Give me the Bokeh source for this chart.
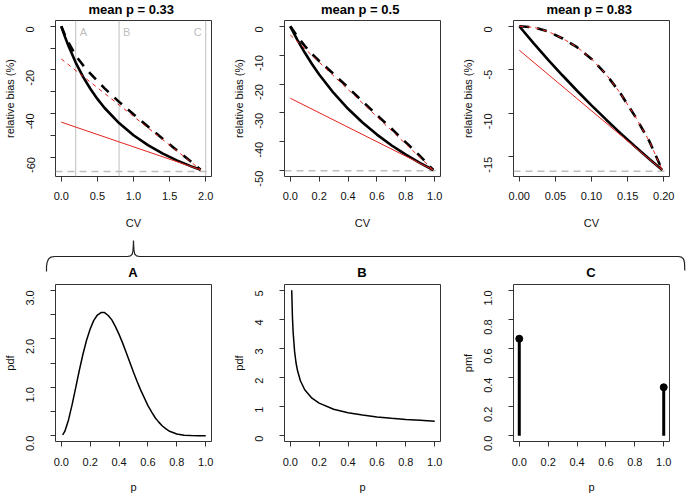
import math
from bokeh.plotting import figure
from bokeh.layouts import column, row
from bokeh.models import Range1d, FixedTicker, Span
from bokeh.embed import file_html
from bokeh.resources import INLINE
from bokeh.core.properties import value

FONT = "Liberation Sans"
RED = "#E3231E"
GREY = "#BEBEBE"
INK = "#111111"

# ---------------- data ----------------
TOP_TITLES = ["mean p =  0.33", "mean p =  0.5", "mean p =  0.83"]
LIMITS = [-66.67, -50.0, -16.67]          # grey dashed horizontal line per panel
MARK_CV = [0.2, 0.8, 2.0]                 # grey vertical lines in first panel
MARK_LABELS = ["A", "B", "C"]

P1_CV = [0, 0.05, 0.1, 0.2, 0.3, 0.4, 0.5, 0.6, 0.8, 1.0, 1.2, 1.4, 1.6, 1.8, 1.93]
P1_SOLID = [0, -4.76, -9.09, -16.67, -23.08, -28.57, -33.33, -37.5, -44.44, -50.0,
            -54.55, -58.33, -61.54, -64.29, -65.87]
P1_DASHED = [0, -4.0, -7.5, -13.5, -17.8, -21.6, -25.1, -28.5, -34.7, -40.4,
             -46.0, -51.5, -56.9, -62.2, -65.87]
P1_RED_CV = [0, 1.93]
P1_RED_SOLID = [-44.0, -65.87]
P1_RED_DASHED = [-15.0, -65.87]

P2_CV = [0, 0.05, 0.1, 0.15, 0.2, 0.3, 0.4, 0.5, 0.6, 0.7, 0.8, 0.9, 0.99]
P2_SOLID = [0, -4.76, -9.09, -13.04, -16.67, -23.08, -28.57, -33.33, -37.5, -41.18,
            -44.44, -47.37, -49.75]
P2_DASHED = [0, -3.6, -6.8, -9.6, -12.0, -16.5, -21.2, -26.0, -30.7, -35.4,
             -40.2, -45.0, -49.75]
P2_RED_CV = [0, 0.99]
P2_RED_SOLID = [-24.9, -49.75]
P2_RED_DASHED = [-3.0, -49.75]

P3_CV = [0, 0.02, 0.04, 0.06, 0.08, 0.1, 0.12, 0.14, 0.16, 0.18, 0.198]
P3_SOLID = [0, -1.96, -3.85, -5.66, -7.41, -9.09, -10.71, -12.28, -13.79, -15.25, -16.53]
P3_DASHED = [0, -0.12, -0.6, -1.4, -2.4, -3.75, -5.5, -7.7, -10.3, -13.2, -16.53]
P3_RED_CV = [0, 0.198]
P3_RED_SOLID = [-2.75, -16.53]
P3_RED_DASHED = [0, -0.12, -0.6, -1.4, -2.4, -3.75, -5.5, -7.7, -10.3, -13.2, -16.53]

A_P = [0.01, 0.025, 0.05, 0.075, 0.1, 0.125, 0.15, 0.175, 0.2, 0.225, 0.25, 0.275,
       0.3, 0.325, 0.35, 0.375, 0.4, 0.425, 0.45, 0.475, 0.5, 0.525, 0.55, 0.575,
       0.6, 0.625, 0.65, 0.675, 0.7, 0.725, 0.75, 0.8, 0.85, 0.9, 0.95, 1.0]
A_PDF = [0.016, 0.093, 0.325, 0.64, 0.99, 1.35, 1.68, 1.97, 2.20, 2.38, 2.49, 2.54,
         2.54, 2.48, 2.39, 2.25, 2.09, 1.91, 1.71, 1.51, 1.31, 1.12, 0.94, 0.78,
         0.62, 0.49, 0.37, 0.28, 0.20, 0.14, 0.09, 0.034, 0.009, 0.0014, 0.0001, 0.0]
B_P = [0.01, 0.015, 0.02, 0.03, 0.04, 0.05, 0.07, 0.1, 0.15, 0.2, 0.3, 0.4, 0.5,
       0.6, 0.7, 0.8, 0.9, 1.0]
B_PDF = [5.0, 4.08, 3.54, 2.89, 2.5, 2.24, 1.89, 1.58, 1.29, 1.12, 0.91, 0.79, 0.71,
         0.645, 0.60, 0.56, 0.53, 0.5]
C_P = [0, 1]
C_PMF = [0.667, 0.333]
BOTTOM_TITLES = ["A", "B", "C"]

# ticks
P1_XT = [0, 0.5, 1.0, 1.5, 2.0]; P1_XL = ["0.0", "0.5", "1.0", "1.5", "2.0"]
P1_YT = [0, -10, -20, -30, -40, -50, -60]; P1_YL = ["0", "", "-20", "", "-40", "", "-60"]
P2_XT = [0, 0.2, 0.4, 0.6, 0.8, 1.0]; P2_XL = ["0.0", "0.2", "0.4", "0.6", "0.8", "1.0"]
P2_YT = [0, -10, -20, -30, -40, -50]; P2_YL = ["0", "-10", "-20", "-30", "-40", "-50"]
P3_XT = [0, 0.05, 0.1, 0.15, 0.2]; P3_XL = ["0.00", "0.05", "0.10", "0.15", "0.20"]
P3_YT = [0, -5, -10, -15]; P3_YL = ["0", "-5", "-10", "-15"]
BX_T = [0, 0.2, 0.4, 0.6, 0.8, 1.0]; BX_L = ["0.0", "0.2", "0.4", "0.6", "0.8", "1.0"]
A_YT = [0, 0.5, 1.0, 1.5, 2.0, 2.5, 3.0]; A_YL = ["0.0", "", "1.0", "", "2.0", "", "3.0"]
B_YT = [0, 1, 2, 3, 4, 5]; B_YL = ["0", "1", "2", "3", "4", "5"]
C_YT = [0, 0.2, 0.4, 0.6, 0.8, 1.0]; C_YL = ["0.0", "0.2", "0.4", "0.6", "0.8", "1.0"]

# curly brace (strip coordinates, px from the strip's top-left)
BRACE_X = [46, 46, 46.6, 48, 50.5, 54, 127, 130, 131.8, 132.5, 132.8, 133,
           133.2, 133.5, 134.2, 136, 139, 678, 681, 683, 684, 684.3]
BRACE_Y = [35, 30, 26, 22.5, 20.6, 20, 20, 19.4, 17.5, 14, 9, 4,
           9, 14, 17.5, 19.4, 20, 20, 20.6, 22.5, 26, 34]

# ---------------- layout constants ----------------
COL_W = [229, 229, 230]
FRAME_W = 157
LEFT_B = 54
TITLE_H, TOP_H, STRIP_H, BOT_H = 18, 218, 44, 216
TOTAL_W = sum(COL_W)
FRAME_CENTERS = [sum(COL_W[:k]) + LEFT_B + FRAME_W / 2 for k in range(3)]


def make_fig(w, h, xr, yr, bt, bb):
    p = figure(width=w, height=h, x_range=Range1d(*xr), y_range=Range1d(*yr),
               output_backend="svg", toolbar_location=None,
               min_border_left=LEFT_B, min_border_right=w - LEFT_B - FRAME_W,
               min_border_top=bt, min_border_bottom=bb)
    p.xgrid.visible = False
    p.ygrid.visible = False
    p.outline_line_color = "#333333"
    p.outline_line_width = 1
    p.outline_line_alpha = 1
    p.background_fill_color = "white"
    p.border_fill_color = "white"
    return p


def strip_fig(h):
    s = figure(width=TOTAL_W, height=h, x_range=Range1d(0, TOTAL_W),
               y_range=Range1d(h, 0), output_backend="svg", toolbar_location=None,
               x_axis_location=None, y_axis_location=None,
               min_border_left=0, min_border_right=0, min_border_top=0, min_border_bottom=0)
    s.xgrid.visible = False
    s.ygrid.visible = False
    s.outline_line_color = None
    return s


def style_axes(p, xt, xl, yt, yl, xlab, ylab, x_ts, x_ls):
    p.xaxis.ticker = FixedTicker(ticks=xt)
    p.xaxis.major_label_overrides = {float(t): s for t, s in zip(xt, xl)}
    p.yaxis.ticker = FixedTicker(ticks=yt)
    p.yaxis.major_label_overrides = {float(t): s for t, s in zip(yt, yl)}
    p.xaxis.axis_label = xlab
    p.yaxis.axis_label = ylab
    for ax in (p.xaxis[0], p.yaxis[0]):
        ax.axis_line_color = None
        ax.major_tick_line_color = "#333333"
        ax.major_tick_out = 5
        ax.major_tick_in = 0
        ax.minor_tick_line_color = None
        ax.major_label_text_font = FONT
        ax.major_label_text_font_size = "11px"
        ax.major_label_text_color = INK
        ax.axis_label_text_font = FONT
        ax.axis_label_text_font_size = "11px"
        ax.axis_label_text_font_style = "normal"
        ax.axis_label_text_color = INK
    p.xaxis.major_label_standoff = x_ts
    p.xaxis.axis_label_standoff = x_ls
    p.yaxis.major_label_standoff = 20
    p.yaxis.axis_label_standoff = 4
    p.yaxis.major_label_orientation = math.pi / 2


def top_panel(i, xr, yr, cv, solid, dashed, red_cv, red_solid, red_dashed_x, red_dashed,
              xt, xl, yt, yl, marks=False):
    p = make_fig(COL_W[i], TOP_H, xr, yr, 2, 60)
    style_axes(p, xt, xl, yt, yl, "CV", "relative bias (%)", 10, 14)
    p.add_layout(Span(location=LIMITS[i], dimension="width", line_color=GREY,
                      line_width=1.4, line_dash="7 5", level="underlay"))
    if marks:
        for m in MARK_CV:
            p.add_layout(Span(location=m, dimension="height", line_color=GREY,
                              line_width=1, level="underlay"))
        p.text(x=MARK_CV[:2], y=[-2.7, -2.7], text=MARK_LABELS[:2], x_offset=4,
               text_align="left", text_baseline="middle", text_color=GREY,
               text_font=value(FONT), text_font_size="11px")
        p.text(x=MARK_CV[2:], y=[-2.7], text=MARK_LABELS[2:], x_offset=-4,
               text_align="right", text_baseline="middle", text_color=GREY,
               text_font=value(FONT), text_font_size="11px")
    p.line(cv, solid, line_color="black", line_width=2.6)
    p.line(cv, dashed, line_color="black", line_width=2.6, line_dash="10 8")
    p.line(red_cv, red_solid, line_color=RED, line_width=1)
    p.line(red_dashed_x, red_dashed, line_color=RED, line_width=1, line_dash="4 4")
    return p


# titles of the top row
title_strip = strip_fig(TITLE_H)
title_strip.text(x=FRAME_CENTERS, y=[9] * 3, text=TOP_TITLES, text_align="center",
                 text_baseline="middle", text_font=value(FONT), text_font_size="13px",
                 text_font_style="bold", text_color="black")

t1 = top_panel(0, (-0.08, 2.08), (-68.95, 2.65), P1_CV, P1_SOLID, P1_DASHED,
               P1_RED_CV, P1_RED_SOLID, P1_RED_CV, P1_RED_DASHED,
               P1_XT, P1_XL, P1_YT, P1_YL, marks=True)
t2 = top_panel(1, (-0.04, 1.04), (-52.0, 2.0), P2_CV, P2_SOLID, P2_DASHED,
               P2_RED_CV, P2_RED_SOLID, P2_RED_CV, P2_RED_DASHED,
               P2_XT, P2_XL, P2_YT, P2_YL)
t3 = top_panel(2, (-0.008, 0.208), (-17.27, 0.665), P3_CV, P3_SOLID, P3_DASHED,
               P3_RED_CV, P3_RED_SOLID, P3_CV, P3_RED_DASHED,
               P3_XT, P3_XL, P3_YT, P3_YL)

# brace strip with the bottom panel titles
strip = strip_fig(STRIP_H)
strip.line(BRACE_X, BRACE_Y, line_color="#222222", line_width=1.2)
strip.text(x=FRAME_CENTERS, y=[35.5] * 3, text=BOTTOM_TITLES, text_align="center",
           text_baseline="middle", text_font=value(FONT), text_font_size="13px",
           text_font_style="bold", text_color="black")

# bottom row
b1 = make_fig(COL_W[0], BOT_H, (-0.04, 1.04), (-0.12, 3.12), 4, 55)
style_axes(b1, BX_T, BX_L, A_YT, A_YL, "p", "pdf", 11, 12)
b1.line(A_P, A_PDF, line_color="black", line_width=1.5)

b2 = make_fig(COL_W[1], BOT_H, (-0.04, 1.04), (-0.2, 5.2), 4, 55)
style_axes(b2, BX_T, BX_L, B_YT, B_YL, "p", "pdf", 11, 12)
b2.line(B_P, B_PDF, line_color="black", line_width=1.5)

b3 = make_fig(COL_W[2], BOT_H, (-0.04, 1.04), (-0.04, 1.04), 4, 55)
style_axes(b3, BX_T, BX_L, C_YT, C_YL, "p", "pmf", 11, 12)
b3.segment(x0=C_P, y0=[0, 0], x1=C_P, y1=C_PMF, line_color="black", line_width=3)
b3.scatter(C_P, C_PMF, size=7, fill_color="black", line_color="black")

layout = column(title_strip, row(t1, t2, t3), strip, row(b1, b2, b3))

open("out.html", "w").write(file_html(layout, INLINE))
